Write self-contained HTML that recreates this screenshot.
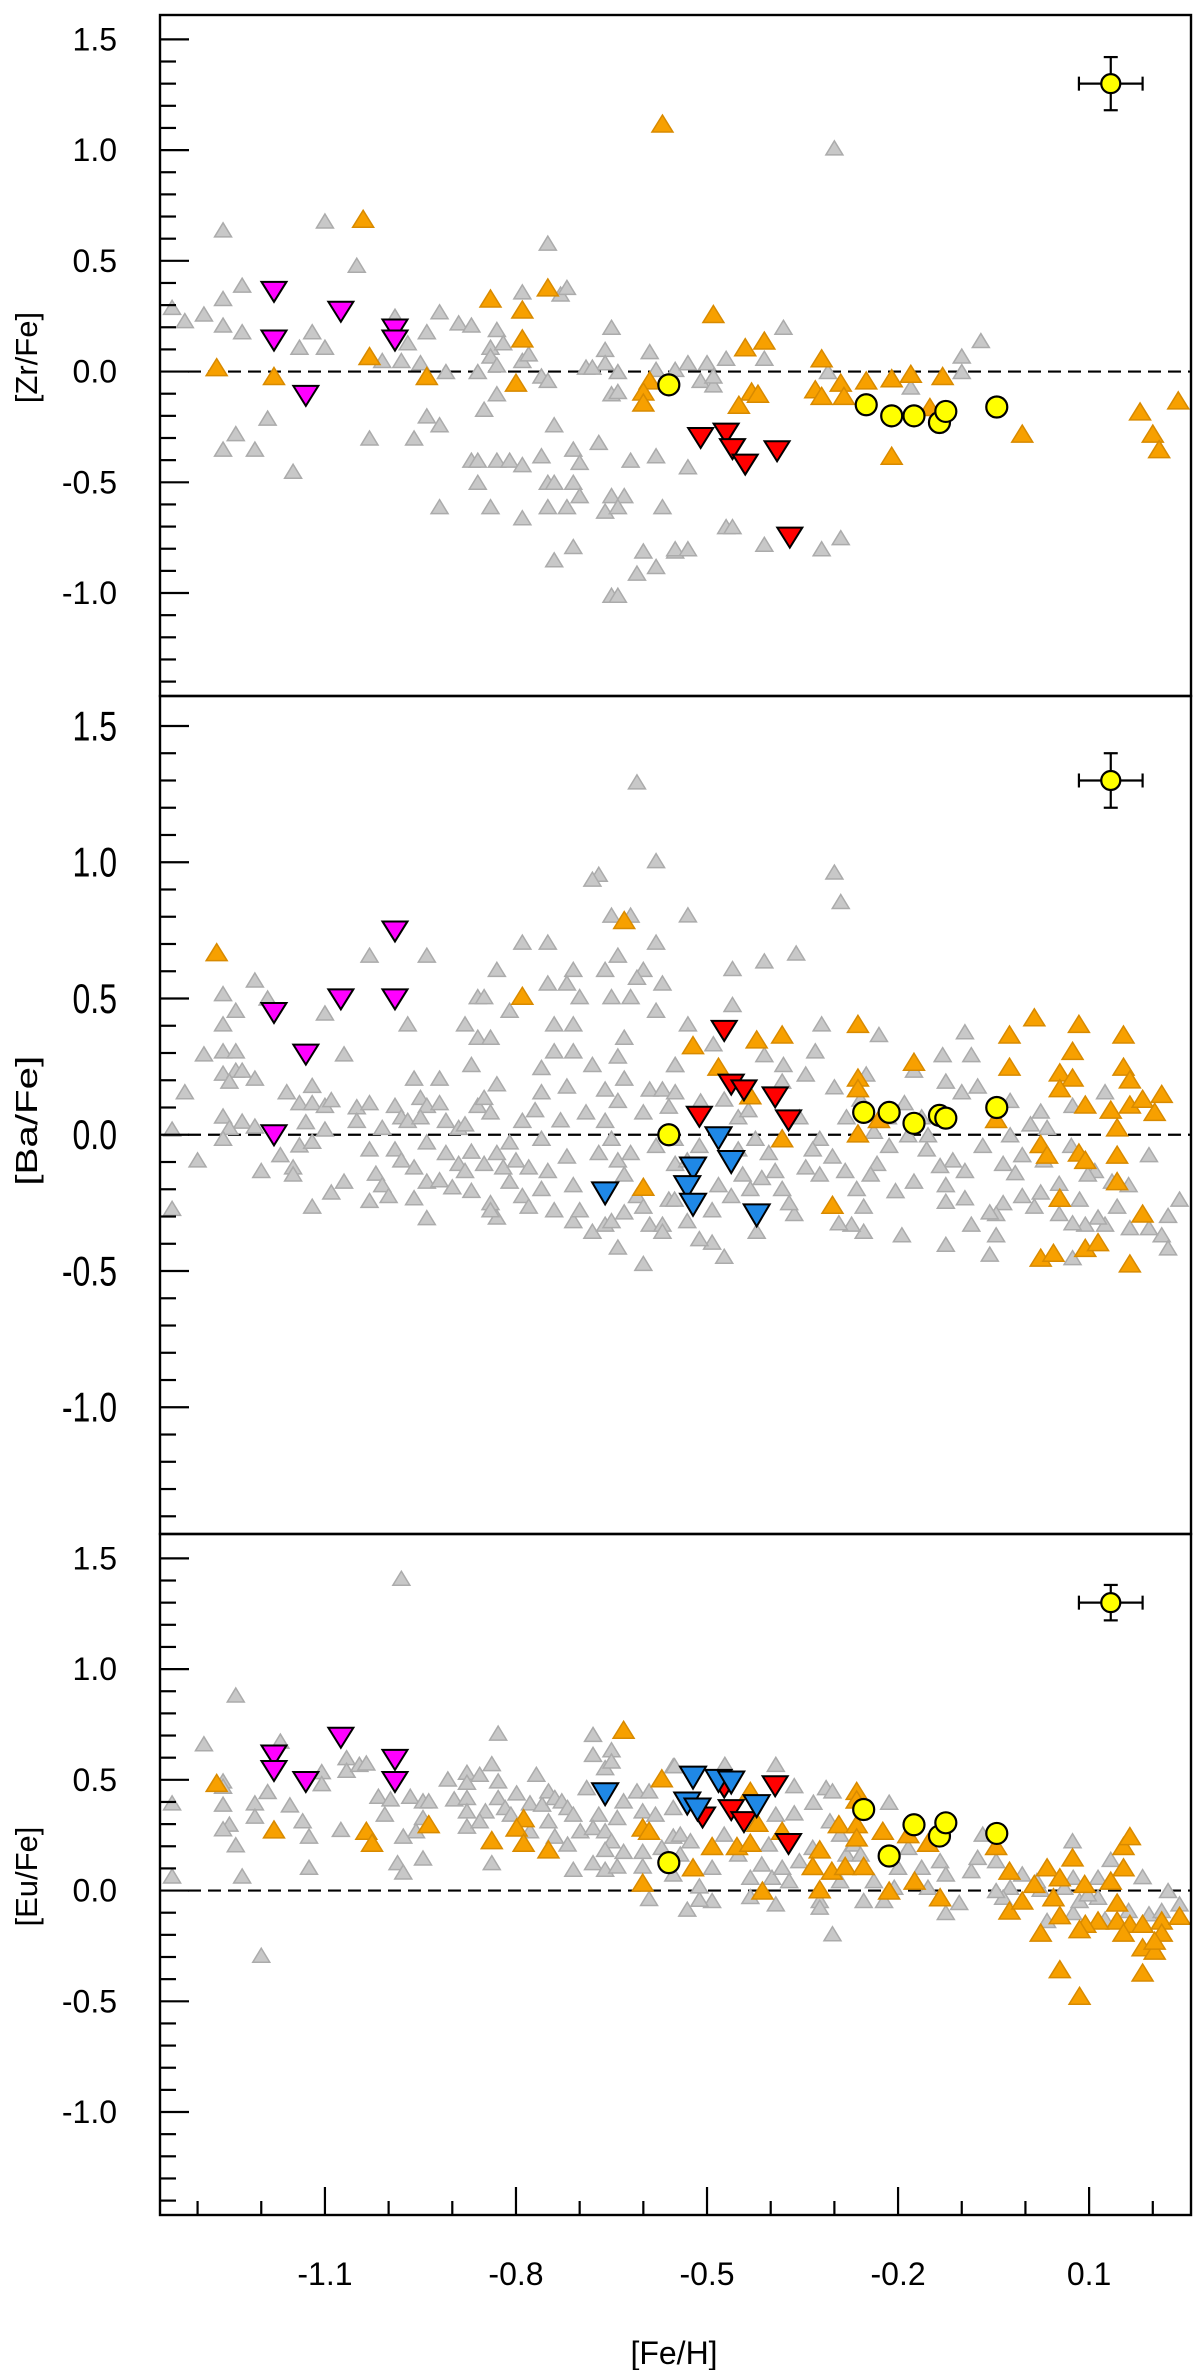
<!DOCTYPE html>
<html><head><meta charset="utf-8"><title>[X/Fe] vs [Fe/H]</title>
<style>html,body{margin:0;padding:0;background:#fff;}svg{display:block;font-family:"Liberation Sans",Arial,sans-serif;}</style>
</head><body>
<svg id="chart" xmlns="http://www.w3.org/2000/svg" width="1200" height="2370" viewBox="0 0 1200 2370">
<rect x="0" y="0" width="1200" height="2370" fill="#fff"/>
</svg>
<script>
const xTicksMajor = [-1.1, -0.8, -0.5, -0.2, 0.1];
const xTicksMinor = [-1.3, -1.2, -1.0, -0.9, -0.7, -0.6, -0.4, -0.3, -0.1, 0.0, 0.2];
const yTicksMajor = [1.5, 1.0, 0.5, 0.0, -0.5, -1.0];
const yTickLabels = ["1.5", "1.0", "0.5", "0.0", "-0.5", "-1.0"];
const yTicksMinor = [1.4,1.3,1.2,1.1,0.9,0.8,0.7,0.6,0.4,0.3,0.2,0.1,-0.1,-0.2,-0.3,-0.4,-0.6,-0.7,-0.8,-0.9,-1.1,-1.2,-1.3,-1.4];
const panelLabels = ["[Zr/Fe]", "[Ba/Fe]", "[Eu/Fe]"];

const zrGray = [[-1.26,0.64],[-1.10,0.68],[-1.05,0.48],[-0.75,0.58],[-1.34,0.29],[-1.32,0.23],[-1.29,0.26],[-1.26,0.33],[-1.23,0.39],[-1.26,0.21],[-1.23,0.18],[-1.14,0.11],[-1.12,0.18],[-1.10,0.11],[-1.18,-0.02],[-1.19,-0.21],[-1.24,-0.28],[-1.26,-0.35],[-1.21,-0.35],[-1.15,-0.45],[-1.03,-0.30],[-0.96,-0.30],[-0.99,0.25],[-0.97,0.13],[-0.98,0.05],[-1.01,0.05],[-0.95,0.04],[-0.94,0.18],[-0.92,0.27],[-0.89,0.22],[-0.87,0.21],[-0.91,0.00],[-0.94,-0.20],[-0.92,-0.24],[-0.86,0.00],[-0.83,0.19],[-0.84,0.11],[-0.82,0.13],[-0.84,0.07],[-0.83,0.03],[-0.83,-0.10],[-0.85,-0.17],[-0.79,0.36],[-0.73,0.35],[-0.72,0.38],[-0.79,0.05],[-0.78,0.08],[-0.76,-0.02],[-0.75,-0.04],[-0.74,-0.24],[-0.87,-0.40],[-0.86,-0.40],[-0.83,-0.40],[-0.81,-0.40],[-0.79,-0.42],[-0.76,-0.38],[-0.71,-0.35],[-0.70,-0.41],[-0.67,-0.32],[-0.86,-0.50],[-0.75,-0.50],[-0.74,-0.50],[-0.71,-0.50],[-0.70,-0.56],[-0.92,-0.61],[-0.84,-0.61],[-0.79,-0.66],[-0.75,-0.61],[-0.72,-0.61],[-0.65,-0.56],[-0.63,-0.56],[-0.66,-0.63],[-0.64,-0.61],[-0.62,-0.40],[-0.58,-0.38],[-0.57,-0.61],[-0.71,-0.79],[-0.74,-0.85],[-0.60,-0.81],[-0.55,-0.81],[-0.58,-0.88],[-0.61,-0.91],[-0.65,-1.01],[-0.64,-1.01],[-0.65,0.20],[-0.66,0.10],[-0.66,0.04],[-0.69,0.02],[-0.68,0.02],[-0.64,0.00],[-0.65,-0.10],[-0.64,-0.09],[-0.59,0.09],[-0.58,0.01],[-0.55,0.01],[-0.30,1.01],[-0.53,0.04],[-0.50,0.04],[-0.47,0.06],[-0.41,0.06],[-0.38,0.20],[-0.51,-0.04],[-0.49,-0.06],[-0.49,-0.02],[-0.31,0.00],[-0.18,-0.07],[-0.10,0.07],[-0.07,0.14],[-0.10,0.00],[-0.53,-0.43],[-0.47,-0.70],[-0.46,-0.70],[-0.55,-0.80],[-0.53,-0.80],[-0.41,-0.78],[-0.32,-0.80],[-0.29,-0.75]];
const zrOrange = [[-1.27,0.02],[-1.18,-0.02],[-1.04,0.69],[-1.03,0.07],[-0.94,-0.02],[-0.84,0.33],[-0.79,0.28],[-0.75,0.38],[-0.79,0.15],[-0.80,-0.05],[-0.57,1.12],[-0.59,-0.04],[-0.60,-0.09],[-0.60,-0.14],[-0.49,0.26],[-0.44,0.11],[-0.41,0.14],[-0.32,0.06],[-0.43,-0.09],[-0.42,-0.10],[-0.45,-0.15],[-0.33,-0.08],[-0.32,-0.11],[-0.29,-0.05],[-0.285,-0.11],[-0.25,-0.04],[-0.21,-0.03],[-0.18,-0.01],[-0.13,-0.02],[-0.15,-0.16],[-0.21,-0.38],[-0.005,-0.28],[0.18,-0.18],[0.20,-0.28],[0.21,-0.35],[0.24,-0.13]];
const zrMagenta = [[-1.18,0.36],[-1.18,0.14],[-1.13,-0.11],[-1.075,0.27],[-0.99,0.19],[-0.99,0.14]];
const zrRed = [[-0.51,-0.30],[-0.47,-0.28],[-0.46,-0.35],[-0.44,-0.42],[-0.39,-0.36],[-0.37,-0.75]];
const zrBlue = [];
const zrYellow = [[-0.56,-0.06],[-0.25,-0.15],[-0.21,-0.20],[-0.175,-0.20],[-0.135,-0.23],[-0.125,-0.18],[-0.045,-0.16]];
const zrErr = [0.134, 1.30, 0.05, 0.12];

const baGray = [[-0.61,1.295],[-0.58,1.006],[-0.67,0.956],[-0.68,0.938],[-0.65,0.806],[-0.62,0.806],[-0.79,0.707],[-0.75,0.707],[-0.58,0.707],[-0.64,0.659],[-1.03,0.659],[-0.94,0.659],[-0.83,0.607],[-0.71,0.607],[-0.66,0.607],[-0.60,0.607],[-0.75,0.557],[-0.72,0.557],[-0.61,0.578],[-0.57,0.557],[-0.86,0.507],[-0.85,0.507],[-0.70,0.507],[-0.65,0.507],[-0.62,0.507],[-0.81,0.457],[-0.58,0.457],[-0.88,0.407],[-0.74,0.407],[-0.71,0.407],[-0.86,0.358],[-0.84,0.358],[-0.63,0.358],[-0.74,0.308],[-0.71,0.308],[-0.64,0.289],[-0.87,0.258],[-0.68,0.258],[-0.76,0.247],[-0.55,0.258],[-0.96,0.208],[-0.92,0.208],[-0.83,0.187],[-0.63,0.208],[-0.72,0.179],[-0.76,0.158],[-0.66,0.168],[-0.59,0.168],[-0.57,0.168],[-0.64,0.126],[-1.21,0.568],[-1.26,0.518],[-1.19,0.502],[-1.24,0.457],[-1.10,0.447],[-1.26,0.407],[-0.97,0.407],[-1.29,0.297],[-1.26,0.308],[-1.24,0.308],[-1.07,0.297],[-1.26,0.226],[-1.24,0.237],[-1.23,0.237],[-1.21,0.208],[-1.25,0.197],[-1.32,0.158],[-1.16,0.158],[-1.12,0.181],[-1.14,0.118],[-1.12,0.118],[-1.10,0.108],[-1.09,0.129],[-1.05,0.103],[-1.03,0.118],[-1.34,0.021],[-1.26,0.069],[-1.23,0.050],[-1.21,0.032],[-1.25,0.027],[-1.26,-0.013],[-1.13,0.048],[-1.10,0.021],[-1.14,-0.037],[-1.12,-0.024],[-1.05,0.053],[-1.01,0.027],[-1.30,-0.092],[-1.17,-0.073],[-1.20,-0.131],[-1.15,-0.118],[-1.15,-0.144],[-1.34,-0.270],[-1.12,-0.262],[-1.09,-0.210],[-1.07,-0.170],[-1.03,-0.241],[-1.03,-0.052],[-1.02,-0.141],[-1.01,-0.183],[-1.00,-0.223],[-0.99,0.108],[-0.99,-0.052],[-0.98,0.066],[-0.98,-0.092],[-0.97,0.053],[-0.96,-0.118],[-0.96,-0.231],[-0.95,0.137],[-0.94,0.108],[-0.95,0.066],[-0.94,-0.026],[-0.92,0.118],[-0.94,-0.170],[-0.94,-0.304],[-0.92,-0.165],[-0.91,0.053],[-0.91,-0.065],[-0.90,-0.191],[-0.89,0.027],[-0.89,-0.105],[-0.88,0.040],[-0.88,-0.131],[-0.87,-0.060],[-0.87,-0.204],[-0.86,0.108],[-0.85,0.137],[-0.84,0.084],[-0.85,-0.105],[-0.84,-0.249],[-0.83,-0.302],[-0.84,-0.275],[-0.83,-0.065],[-0.82,-0.118],[-0.81,-0.026],[-0.81,-0.170],[-0.80,-0.092],[-0.79,0.053],[-0.79,-0.223],[-0.78,-0.262],[-0.78,-0.118],[-0.77,0.092],[-0.76,-0.013],[-0.76,-0.197],[-0.75,-0.131],[-0.74,-0.275],[-0.73,0.055],[-0.72,-0.078],[-0.71,-0.183],[-0.71,-0.315],[-0.70,-0.275],[-0.69,0.084],[-0.68,-0.354],[-0.67,-0.065],[-0.66,0.053],[-0.66,-0.328],[-0.65,-0.013],[-0.65,-0.315],[-0.64,-0.412],[-0.64,-0.092],[-0.63,-0.144],[-0.63,-0.283],[-0.62,-0.065],[-0.61,-0.223],[-0.60,0.084],[-0.60,-0.262],[-0.60,-0.472],[-0.59,-0.328],[-0.58,-0.039],[-0.57,-0.328],[-0.57,-0.354],[-0.56,-0.236],[-0.56,0.105],[-0.55,-0.105],[-0.30,0.964],[-0.29,0.856],[-0.53,0.807],[-0.36,0.667],[-0.41,0.638],[-0.46,0.610],[-0.46,0.478],[-0.53,0.407],[-0.49,0.334],[-0.32,0.407],[-0.23,0.368],[-0.095,0.378],[-0.33,0.308],[-0.41,0.294],[-0.38,0.258],[-0.55,0.258],[-0.13,0.294],[-0.085,0.294],[-0.345,0.223],[-0.25,0.223],[-0.175,0.237],[-0.125,0.197],[-0.075,0.179],[0.125,0.158],[-0.55,0.158],[-0.51,0.124],[-0.30,0.176],[-0.10,0.158],[-0.024,0.126],[0.024,0.087],[0.074,0.108],[0.194,-0.073],[0.242,-0.236],[0.224,-0.296],[0.214,-0.367],[0.224,-0.415],[0.194,-0.341],[0.164,-0.341],[0.144,-0.262],[0.125,-0.328],[0.114,-0.302],[0.094,-0.328],[0.074,-0.323],[0.074,-0.451],[0.053,-0.289],[0.085,-0.236],[0.053,-0.178],[0.024,-0.210],[0.014,-0.262],[-0.005,-0.223],[-0.005,-0.073],[-0.016,-0.139],[-0.035,-0.105],[-0.035,-0.249],[-0.046,-0.289],[-0.056,-0.283],[-0.046,-0.367],[-0.056,-0.438],[-0.085,-0.328],[-0.095,-0.231],[-0.095,-0.131],[-0.125,-0.244],[-0.125,-0.402],[-0.125,-0.183],[-0.114,-0.092],[-0.134,-0.113],[-0.155,-0.052],[-0.175,-0.170],[-0.194,-0.367],[-0.204,-0.205],[-0.214,-0.039],[-0.233,-0.105],[-0.243,-0.144],[-0.254,-0.262],[-0.254,-0.354],[-0.273,-0.328],[-0.293,-0.323],[-0.265,-0.197],[-0.283,-0.131],[-0.303,-0.078],[-0.323,-0.144],[-0.323,-0.013],[-0.334,-0.052],[-0.345,-0.118],[-0.363,-0.289],[-0.371,-0.249],[-0.382,-0.197],[-0.393,-0.131],[-0.403,-0.065],[-0.414,-0.157],[-0.424,-0.013],[-0.432,-0.197],[-0.422,-0.354],[-0.444,-0.144],[-0.451,-0.052],[-0.462,-0.223],[-0.473,-0.446],[-0.482,-0.183],[-0.492,-0.275],[-0.492,-0.394],[-0.512,-0.381],[-0.531,-0.315],[-0.531,-0.092],[-0.551,-0.013],[-0.551,-0.236],[-0.512,-0.039],[-0.184,0.0],[-0.153,0.0],[-0.067,-0.039],[0.029,-0.092],[0.072,-0.039],[0.109,-0.131],[0.136,-0.170],[0.162,-0.183],[-0.024,0.0],[0.034,0.027],[0.008,0.040],[0.098,-0.144],[-0.238,0.013],[-0.216,0.066],[-0.190,0.118],[-0.163,0.066],[-0.259,0.131],[-0.281,0.066],[-0.355,0.066],[-0.451,0.066],[-0.382,0.197],[-0.435,0.092],[-0.473,0.131]];
const baOrange = [[-1.27,0.670],[-0.63,0.788],[-0.79,0.510],[-0.60,-0.191],[-0.522,0.329],[-0.422,0.350],[-0.382,0.368],[-0.263,0.407],[-0.482,0.250],[-0.432,0.145],[-0.382,-0.013],[-0.263,0.210],[-0.263,0.171],[-0.263,0.005],[-0.303,-0.257],[-0.175,0.268],[-0.230,0.058],[-0.046,0.058],[-0.025,0.368],[0.014,0.431],[0.084,0.407],[0.154,0.368],[-0.025,0.250],[0.074,0.308],[0.054,0.229],[0.074,0.210],[0.054,0.171],[0.154,0.250],[0.164,0.203],[0.094,0.111],[0.134,0.092],[0.164,0.111],[0.184,0.132],[0.214,0.150],[0.203,0.084],[0.144,0.027],[0.024,-0.034],[0.034,-0.073],[0.084,-0.065],[0.094,-0.092],[0.144,-0.073],[0.144,-0.170],[0.054,-0.231],[0.184,-0.289],[0.024,-0.451],[0.044,-0.433],[0.094,-0.415],[0.114,-0.394],[0.164,-0.472]];
const baMagenta = [[-1.18,0.447],[-1.13,0.294],[-1.075,0.497],[-0.99,0.746],[-0.99,0.497],[-1.18,-0.002]];
const baRed = [[-0.473,0.381],[-0.462,0.184],[-0.442,0.163],[-0.512,0.066],[-0.393,0.137],[-0.372,0.053]];
const baBlue = [[-0.66,-0.215],[-0.482,-0.013],[-0.462,-0.100],[-0.522,-0.124],[-0.531,-0.192],[-0.522,-0.257],[-0.422,-0.296]];
const baYellow = [[-0.56,0.0],[-0.254,0.082],[-0.214,0.082],[-0.175,0.042],[-0.135,0.071],[-0.125,0.061],[-0.045,0.100]];
const baErr = [0.134, 1.30, 0.05, 0.10];

const euGray = [[-0.98,1.41],[-1.24,0.883],[-1.29,0.663],[-1.17,0.675],[-1.34,0.396],[-1.26,0.495],[-1.26,0.471],[-1.26,0.390],[-1.25,0.300],[-1.26,0.279],[-1.24,0.207],[-1.23,0.066],[-1.34,0.066],[-1.21,0.396],[-1.21,0.336],[-1.19,0.447],[-1.155,0.387],[-1.135,0.315],[-1.125,0.246],[-1.125,0.105],[-1.105,0.537],[-1.105,0.483],[-1.066,0.600],[-1.066,0.543],[-1.046,0.570],[-1.035,0.576],[-1.075,0.276],[-1.20,-0.292],[-1.016,0.426],[-0.997,0.414],[-1.006,0.345],[-0.966,0.426],[-0.946,0.405],[-0.937,0.405],[-0.946,0.330],[-0.957,0.270],[-0.977,0.246],[-0.986,0.126],[-0.977,0.084],[-0.946,0.147],[-0.907,0.504],[-0.897,0.414],[-0.877,0.534],[-0.877,0.489],[-0.877,0.420],[-0.877,0.360],[-0.877,0.291],[-0.857,0.525],[-0.838,0.573],[-0.828,0.711],[-0.828,0.495],[-0.848,0.360],[-0.857,0.315],[-0.828,0.420],[-0.817,0.375],[-0.799,0.441],[-0.808,0.345],[-0.838,0.126],[-0.778,0.396],[-0.768,0.525],[-0.759,0.390],[-0.749,0.450],[-0.739,0.420],[-0.728,0.405],[-0.719,0.375],[-0.710,0.345],[-0.778,0.270],[-0.749,0.315],[-0.739,0.246],[-0.719,0.210],[-0.699,0.270],[-0.710,0.096],[-0.679,0.705],[-0.679,0.615],[-0.650,0.636],[-0.660,0.555],[-0.650,0.585],[-0.689,0.465],[-0.670,0.345],[-0.679,0.285],[-0.660,0.270],[-0.641,0.330],[-0.631,0.405],[-0.650,0.225],[-0.660,0.186],[-0.631,0.177],[-0.679,0.126],[-0.660,0.096],[-0.641,0.111],[-0.610,0.450],[-0.591,0.450],[-0.601,0.360],[-0.581,0.345],[-0.601,0.177],[-0.601,0.111],[-0.591,-0.036],[-0.553,0.564],[-0.553,0.375],[-0.553,0.246],[-0.553,0.075],[-0.571,0.195],[-0.551,0.564],[-0.472,0.570],[-0.392,0.570],[-0.363,0.474],[-0.313,0.465],[-0.303,0.450],[-0.333,0.399],[-0.363,0.351],[-0.392,0.345],[-0.214,0.399],[0.074,0.225],[0.134,0.141],[0.184,0.063],[0.224,0.000],[0.242,-0.060],[0.194,-0.105],[-0.303,-0.195],[-0.531,-0.084],[-0.492,-0.045],[-0.512,-0.039],[-0.512,0.021],[-0.542,0.255],[-0.542,0.165],[-0.526,0.225],[-0.492,0.105],[-0.473,0.255],[-0.451,0.165],[-0.432,0.060],[-0.414,0.120],[-0.403,0.210],[-0.398,0.060],[-0.382,0.105],[-0.371,0.045],[-0.392,-0.060],[-0.432,-0.027],[-0.355,0.135],[-0.334,0.195],[-0.323,-0.045],[-0.323,-0.075],[-0.307,0.315],[-0.291,0.255],[-0.281,0.165],[-0.291,0.045],[-0.270,0.210],[-0.259,0.165],[-0.254,-0.045],[-0.238,0.045],[-0.222,-0.045],[-0.206,0.015],[-0.200,0.105],[-0.184,0.195],[-0.163,0.105],[-0.153,0.015],[-0.134,0.135],[-0.125,0.075],[-0.125,-0.099],[-0.104,-0.054],[-0.085,0.090],[-0.075,0.150],[-0.067,0.255],[-0.046,0.135],[-0.024,0.015],[-0.035,-0.030],[-0.005,0.075],[0.024,0.006],[0.034,-0.135],[0.075,0.060],[0.075,-0.099],[0.085,-0.045],[0.114,0.060],[0.114,-0.030],[0.125,-0.129],[0.214,-0.090],[0.162,-0.090],[0.098,-0.015],[0.061,0.015],[0.018,0.045],[-0.046,0.000]];
const euOrange = [[-1.27,0.486],[-1.18,0.276],[-1.035,0.270],[-1.026,0.216],[-0.937,0.300],[-0.838,0.228],[-0.788,0.327],[-0.799,0.285],[-0.788,0.216],[-0.749,0.186],[-0.631,0.726],[-0.601,0.285],[-0.591,0.270],[-0.601,0.036],[-0.571,0.507],[-0.265,0.450],[-0.265,0.411],[-0.293,0.300],[-0.265,0.300],[-0.265,0.240],[-0.224,0.270],[-0.184,0.255],[-0.153,0.216],[-0.323,0.186],[-0.334,0.111],[-0.304,0.090],[-0.283,0.111],[-0.254,0.111],[-0.174,0.045],[-0.214,0.000],[-0.323,0.006],[-0.413,0.000],[-0.522,0.105],[-0.492,0.201],[-0.453,0.201],[-0.432,0.216],[-0.421,0.306],[-0.382,0.270],[-0.432,0.450],[-0.134,-0.030],[-0.046,0.201],[-0.025,0.090],[-0.025,-0.090],[-0.005,-0.045],[0.014,0.030],[0.034,0.105],[0.054,0.060],[0.044,-0.030],[0.054,-0.111],[0.024,-0.190],[0.074,0.150],[0.093,0.030],[0.134,0.045],[0.154,0.105],[0.154,0.201],[0.164,0.246],[0.144,-0.054],[0.144,-0.135],[0.114,-0.135],[0.094,-0.150],[0.085,-0.174],[0.164,-0.150],[0.184,-0.150],[0.214,-0.135],[0.214,-0.190],[0.154,-0.190],[0.242,-0.114],[0.184,-0.256],[0.203,-0.271],[0.203,-0.226],[0.054,-0.355],[0.184,-0.370],[0.085,-0.475]];
const euMagenta = [[-1.18,0.61],[-1.18,0.54],[-1.13,0.49],[-1.075,0.69],[-0.99,0.59],[-0.99,0.49]];
const euRed = [[-0.393,0.471],[-0.473,0.465],[-0.507,0.330],[-0.462,0.363],[-0.442,0.309],[-0.372,0.210]];
const euBlue = [[-0.66,0.435],[-0.522,0.510],[-0.482,0.495],[-0.462,0.488],[-0.531,0.393],[-0.515,0.366],[-0.422,0.381]];
const euYellow = [[-0.56,0.126],[-0.254,0.366],[-0.214,0.156],[-0.175,0.297],[-0.135,0.246],[-0.125,0.306],[-0.045,0.258]];
const euErr = [0.134, 1.30, 0.05, 0.08];

const NS = "http://www.w3.org/2000/svg";
const svg = document.getElementById("chart");
const X0 = 160, X1 = 1191, XMIN = -1.359, XMAX = 0.26, YMAX = 1.61, YMIN = -1.465;
const panels = [
  {top: 15, bot: 696, name: "zr", label: panelLabels[0], sy: 1, data: [zrGray, zrOrange, zrMagenta, zrRed, zrBlue, zrYellow], err: zrErr},
  {top: 696, bot: 1534, name: "ba", label: panelLabels[1], sy: 1.3, data: [baGray, baOrange, baMagenta, baRed, baBlue, baYellow], err: baErr},
  {top: 1534, bot: 2215, name: "eu", label: panelLabels[2], sy: 1, data: [euGray, euOrange, euMagenta, euRed, euBlue, euYellow], err: euErr}
];
function xs(v) { return X0 + (v - XMIN) / (XMAX - XMIN) * (X1 - X0); }
function ys(p, v) { return p.top + (YMAX - v) / (YMAX - YMIN) * (p.bot - p.top); }
function mk(tag, attrs, parent) {
  const e = document.createElementNS(NS, tag);
  for (const k in attrs) e.setAttribute(k, attrs[k]);
  (parent || svg).appendChild(e);
  return e;
}
function tri(cx, cy, w, h, up) {
  if (up) return `${cx},${cy - h/2} ${cx + w/2},${cy + h/2} ${cx - w/2},${cy + h/2}`;
  return `${cx - w/2},${cy - h/2} ${cx + w/2},${cy - h/2} ${cx},${cy + h/2}`;
}

panels.forEach((p, pi) => {
  const g = mk("g", {});
  
  
  // zero dashed line
  const zl = mk("line", {x1: X0 + 28, x2: X1, y1: ys(p, 0), y2: ys(p, 0), stroke: "#000", "stroke-width": 2.2, "stroke-dasharray": "13,7"}, g);
  
  
  // series
  const styles = [
    {n: "gray", up: true, w: 17, h: 14, fill: "#c8c8c8", stroke: "#ababab", sw: 1.5},
    {n: "orange", up: true, w: 21, h: 17, fill: "#f7a000", stroke: "#d88a00", sw: 1.5},
    {n: "magenta", up: false, w: 25, h: 20, fill: "#ff00ff", stroke: "#000", sw: 2},
    {n: "red", up: false, w: 25, h: 20, fill: "#ff0000", stroke: "#000", sw: 2},
    {n: "blue", up: false, w: 26, h: 22, fill: "#1f88e6", stroke: "#000", sw: 2}
  ];
  styles.forEach((s, si) => {
    const sg = mk("g", {}, g);
    
    
    p.data[si].forEach(d => {
      const m = mk("polygon", {points: tri(xs(d[0]), ys(p, d[1]), s.w, s.h, s.up), fill: s.fill, stroke: s.stroke, "stroke-width": s.sw, "stroke-linejoin": "miter"}, sg);
      
      
    });
  });
  const yg = mk("g", {}, g);
  
  
  p.data[5].forEach(d => {
    const c = mk("circle", {cx: xs(d[0]), cy: ys(p, d[1]), r: 10.5, fill: "#ffff00", stroke: "#000", "stroke-width": 2.2}, yg);
    
    
  });
  // error bar marker
  const e = p.err;
  const eg = mk("g", {stroke: "#000", "stroke-width": 2.2}, g);
  
  
  const ex = xs(e[0]), ey = ys(p, e[1]);
  const exl = xs(e[0] - e[2]), exr = xs(e[0] + e[2]);
  const eyt = ys(p, e[1] + e[3]), eyb = ys(p, e[1] - e[3]);
  mk("line", {x1: exl, x2: exr, y1: ey, y2: ey}, eg);
  mk("line", {x1: exl, x2: exl, y1: ey - 7, y2: ey + 7}, eg);
  mk("line", {x1: exr, x2: exr, y1: ey - 7, y2: ey + 7}, eg);
  mk("line", {x1: ex, x2: ex, y1: eyt, y2: eyb}, eg);
  mk("line", {x1: ex - 7, x2: ex + 7, y1: eyt, y2: eyt}, eg);
  mk("line", {x1: ex - 7, x2: ex + 7, y1: eyb, y2: eyb}, eg);
  mk("circle", {cx: ex, cy: ey, r: 9.5, fill: "#ffff00"}, eg);
  // frame
  const fr = mk("rect", {x: X0, y: p.top, width: X1 - X0, height: p.bot - p.top, fill: "none", stroke: "#000", "stroke-width": 2.4}, g);
  
  
  // y ticks
  yTicksMajor.forEach((v, i) => {
    const y = ys(p, v);
    const t = mk("line", {x1: X0, x2: X0 + 29, y1: y, y2: y, stroke: "#000", "stroke-width": 2.2}, g);
    
    
    const tx = mk("text", {x: 0, y: 11, "font-size": 32, "text-anchor": "end", fill: "#000", transform: `translate(117,${y}) scale(1,${p.sy})`}, g);
    tx.textContent = yTickLabels[i];
    
    
  });
  yTicksMinor.forEach(v => {
    const y = ys(p, v);
    const t = mk("line", {x1: X0, x2: X0 + 16, y1: y, y2: y, stroke: "#000", "stroke-width": 2.2}, g);
    
    
  });
  const cy = ys(p, 0) - 14;
  const al = mk("text", {x: 0, y: 0, "font-size": 31, "text-anchor": "middle", fill: "#000", transform: `translate(37,${cy}) rotate(-90) scale(${p.sy},1)`}, g);
  al.textContent = p.label;
  
  
});

// x axis ticks on bottom panel
const bp = panels[2];
xTicksMajor.forEach(v => {
  const x = xs(v);
  const t = mk("line", {x1: x, x2: x, y1: bp.bot, y2: bp.bot - 28, stroke: "#000", "stroke-width": 2.2});
  
  
  const tx = mk("text", {x: x, y: 2285, "font-size": 32, "text-anchor": "middle", fill: "#000"});
  tx.textContent = String(v);
  
  
});
xTicksMinor.forEach(v => {
  const x = xs(v);
  const t = mk("line", {x1: x, x2: x, y1: bp.bot, y2: bp.bot - 14, stroke: "#000", "stroke-width": 2.2});
  
  
});
const xt = mk("text", {x: 674, y: 2364, "font-size": 32, "text-anchor": "middle", fill: "#000"});
xt.textContent = "[Fe/H]";


</script>
</body></html>
